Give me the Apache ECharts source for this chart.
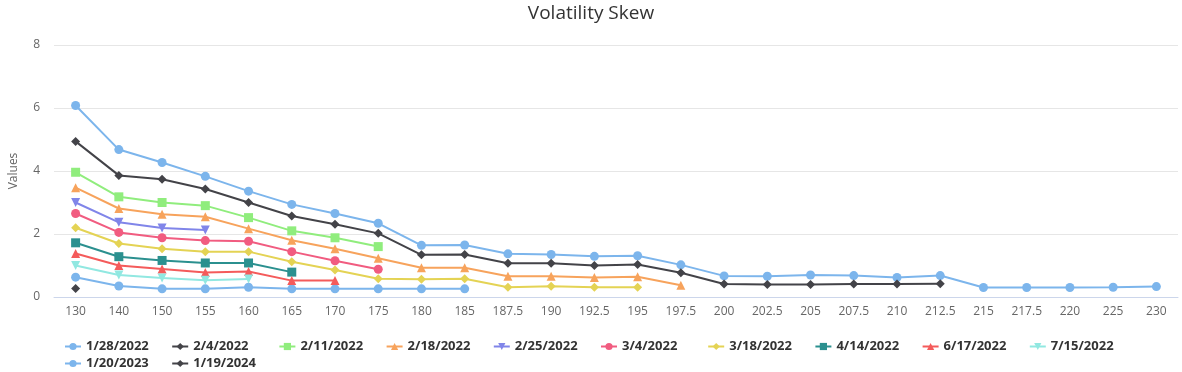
<!DOCTYPE html>
<html>
<head>
<meta charset="utf-8">
<script src="https://cdn.jsdelivr.net/npm/echarts@6/dist/echarts.min.js"></script>
<style>html,body{margin:0;padding:0;background:#fff}#c{width:1182px;height:372px}</style>
</head>
<body>
<div id="c"></div>
<script>
const categories = ['130','140','150','155','160','165','170','175','180','185','187.5','190','192.5','195','197.5','200','202.5','205','207.5','210','212.5','215','217.5','220','225','230'];
const seriesNames = ['1/28/2022','2/4/2022','2/11/2022','2/18/2022','2/25/2022','3/4/2022','3/18/2022','4/14/2022','6/17/2022','7/15/2022','1/20/2023','1/19/2024'];
const s_1_28_2022 = [0.63,0.35,0.26,0.26,0.31,0.26,0.26,0.26,0.26,0.26];
const s_2_4_2022 = [0.27];
const s_2_11_2022 = [3.96,3.18,3.0,2.9,2.52,2.1,1.88,1.6];
const s_2_18_2022 = [3.47,2.81,2.63,2.55,2.17,1.8,1.53,1.23,0.93,0.93,0.66,0.66,0.62,0.64,0.37];
const s_2_25_2022 = [3.0,2.37,2.19,2.13];
const s_3_4_2022 = [2.65,2.05,1.88,1.79,1.77,1.44,1.15,0.88];
const s_3_18_2022 = [2.2,1.7,1.53,1.44,1.44,1.12,0.86,0.58,0.56,0.58,0.31,0.34,0.31,0.31];
const s_4_14_2022 = [1.72,1.28,1.16,1.08,1.08,0.79];
const s_6_17_2022 = [1.38,1.0,0.89,0.78,0.81,0.52,0.52];
const s_7_15_2022 = [1.0,0.7,0.6,0.53,0.57];
const s_1_20_2023 = [6.08,4.68,4.27,3.83,3.36,2.94,2.65,2.34,1.64,1.65,1.37,1.35,1.29,1.31,1.02,0.67,0.66,0.7,0.68,0.62,0.68,0.3,0.3,0.3,0.31,0.33];
const s_1_19_2024 = [4.94,3.86,3.74,3.43,3.0,2.57,2.31,2.02,1.34,1.35,1.07,1.07,1.0,1.03,0.77,0.41,0.4,0.4,0.41,0.41,0.42];
const seriesData = [s_1_28_2022,s_2_4_2022,s_2_11_2022,s_2_18_2022,s_2_25_2022,s_3_4_2022,s_3_18_2022,s_4_14_2022,s_6_17_2022,s_7_15_2022,s_1_20_2023,s_1_19_2024];

const colors = ['#7cb5ec','#434348','#90ed7d','#f7a35c','#8085e9','#f15c80','#e4d354','#2b908f','#f45b5b','#91e8e1','#7cb5ec','#434348'];
const triDown = 'path://M0,0 L10,0 L5,10 Z';
const symbols = ['circle','diamond','rect','triangle',triDown,'circle','diamond','rect','triangle',triDown,'circle','diamond'];
const FONT = 'Open Sans';

const legends = seriesNames.map((n, i) => ({
  left: 64 + (i % 10) * 107.2,
  top: i < 10 ? 340 : 357,
  itemWidth: 16, itemHeight: 9, itemGap: 0, padding: 0,
  data: [n],
  textStyle: {fontFamily: FONT, fontSize: 13, fontWeight: 'bold', color: '#333333', padding: 0}
}));

const chart = echarts.init(document.getElementById('c'));
chart.setOption({
  animation: false,
  color: colors,
  title: {
    text: 'Volatility Skew', left: 'center', top: -1,
    textStyle: {fontFamily: FONT, fontSize: 19, fontWeight: 'normal', color: '#333333'}
  },
  legend: legends,
  grid: {left: 48, right: 4, top: 45, bottom: 75, containLabel: false},
  xAxis: {
    type: 'category', data: categories, boundaryGap: true,
    axisLine: {lineStyle: {color: '#ccd6eb'}},
    axisTick: {show: false},
    axisLabel: {fontFamily: FONT, fontSize: 12, color: '#666666', margin: 9, interval: 0}
  },
  yAxis: {
    type: 'value', min: 0, max: 8, interval: 2,
    name: 'Values', nameLocation: 'middle', nameGap: 34,
    nameTextStyle: {fontFamily: FONT, fontSize: 12, color: '#666666'},
    axisLine: {show: false}, axisTick: {show: false},
    axisLabel: {fontFamily: FONT, fontSize: 12, color: '#666666', margin: 14},
    splitLine: {lineStyle: {color: '#e6e6e6'}}
  },
  series: seriesNames.map((n, i) => ({
    name: n, type: 'line', data: seriesData[i],
    symbol: symbols[i], symbolSize: 9, showAllSymbol: true,
    lineStyle: {width: 2, color: colors[i]},
    itemStyle: {color: colors[i]},
    emphasis: {disabled: true}
  }))
});
</script>
</body>
</html>
